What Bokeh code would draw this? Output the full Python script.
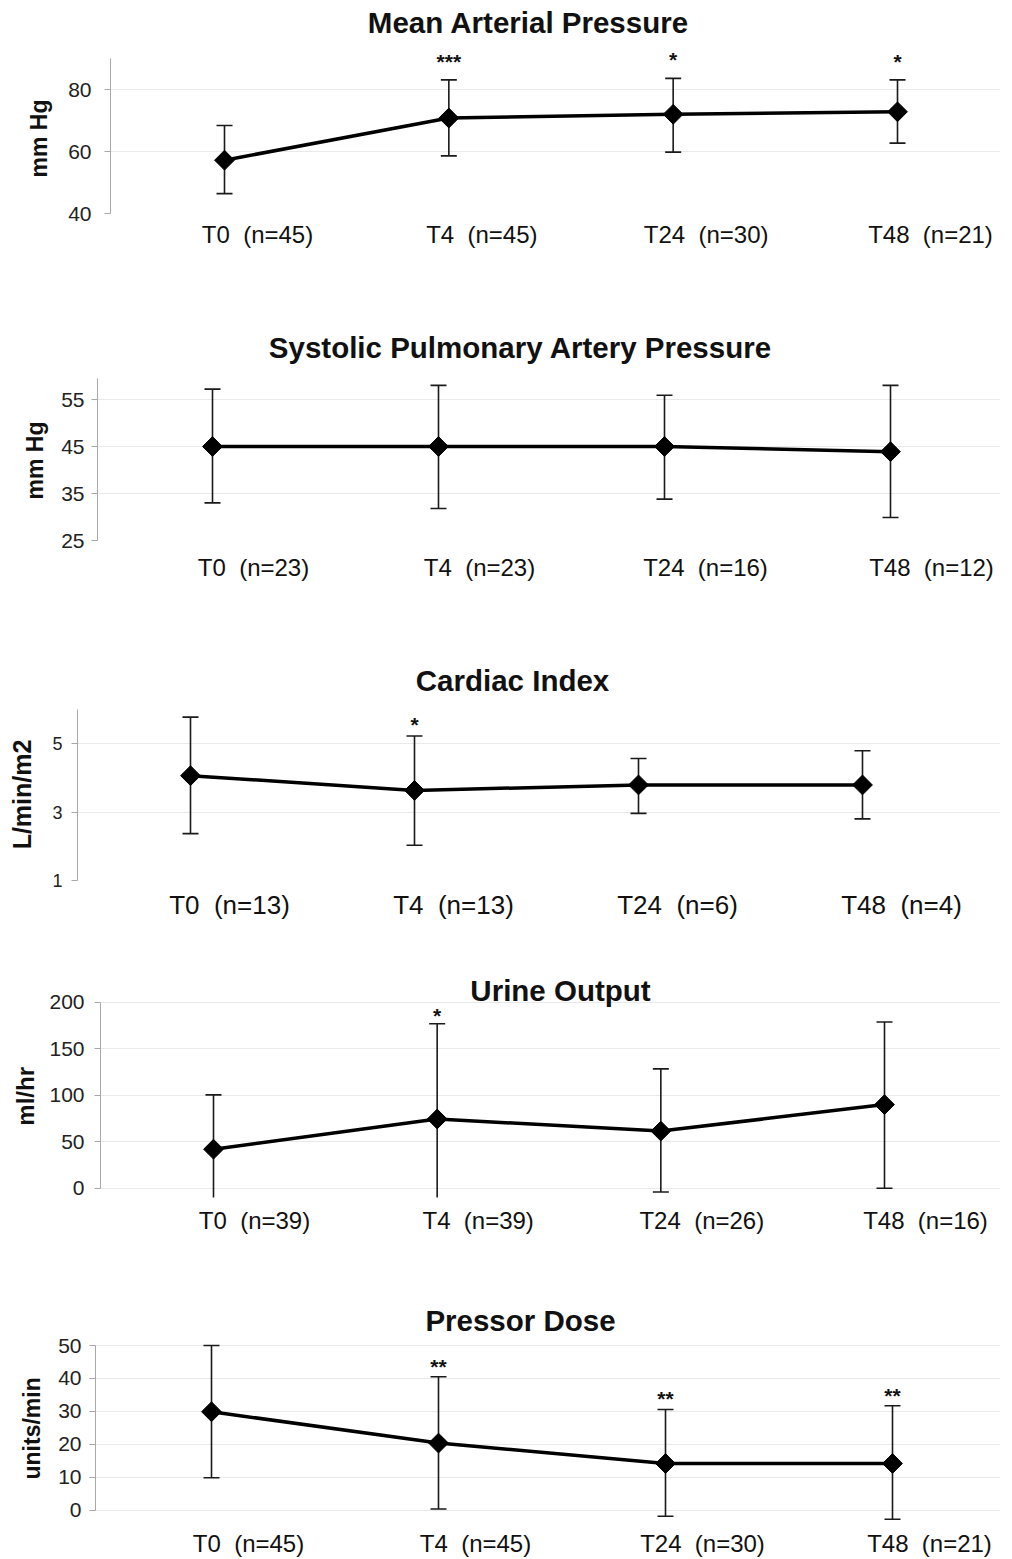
import math
from bokeh.plotting import figure
from bokeh.models import ColumnDataSource, LabelSet, Label, FixedTicker, Range1d, LinearAxis
from bokeh.core.properties import value
from bokeh.embed import file_html
from bokeh.resources import INLINE

# ---------------- data ----------------
categories = ["T0", "T4", "T24", "T48"]

map_title = "Mean Arterial Pressure"
map_unit = "mm Hg"
map_n = [45, 45, 30, 21]
map_mean = [57.2, 70.8, 72.0, 72.8]
map_low = [46.4, 58.6, 59.8, 62.7]
map_high = [68.4, 83.1, 83.6, 83.1]
map_sig = ["", "***", "*", "*"]
map_ticks = [40, 60, 80]

spap_title = "Systolic Pulmonary Artery Pressure"
spap_unit = "mm Hg"
spap_n = [23, 23, 16, 12]
spap_mean = [45.0, 45.0, 45.0, 43.9]
spap_low = [33.0, 31.8, 33.8, 29.9]
spap_high = [57.2, 58.0, 55.9, 58.0]
spap_sig = ["", "", "", ""]
spap_ticks = [25, 35, 45, 55]

ci_title = "Cardiac Index"
ci_unit = "L/min/m2"
ci_n = [13, 13, 6, 4]
ci_mean = [4.06, 3.63, 3.79, 3.79]
ci_low = [2.37, 2.03, 2.96, 2.80]
ci_high = [5.77, 5.22, 4.56, 4.79]
ci_sig = ["", "*", "", ""]
ci_ticks = [1, 3, 5]

uo_title = "Urine Output"
uo_unit = "ml/hr"
uo_n = [39, 39, 26, 16]
uo_mean = [42.0, 74.5, 61.5, 90.0]
uo_low = [-16.5, -28.0, -4.0, 0.0]
uo_high = [100.5, 177.0, 128.5, 179.0]
uo_sig = ["", "*", "", ""]
uo_ticks = [0, 50, 100, 150, 200]

pd_title = "Pressor Dose"
pd_unit = "units/min"
pd_n = [45, 45, 30, 21]
pd_mean = [29.9, 20.4, 14.2, 14.2]
pd_low = [9.9, 0.4, -1.8, -2.7]
pd_high = [50.0, 40.5, 30.6, 31.7]
pd_sig = ["", "**", "**", "**"]
pd_ticks = [0, 10, 20, 30, 40, 50]

FONT = "Liberation Sans"
W = 1004
FRAME_RIGHT = 1000
NB = "\u00a0"


def make_panel(title, unit, n, mean, low, high, sig, ticks, g):
    idx = list(range(len(categories)))
    labels = [f"{c}{NB} (n={k})" for c, k in zip(categories, n)]
    src = ColumnDataSource(dict(x=idx, mean=mean, low=low, high=high, sig=sig))

    # --- layout geometry (page pixels -> ranges) ---
    (va, pa), (vb, pb) = g["ref_a"], g["ref_b"]
    s = (pb - pa) / (va - vb)                      # px per unit
    fb_page = pb + (vb - g["clip"]) * s            # frame bottom on page
    frame_h = fb_page - g["top"]
    bottom_border = int(round(g["h"] - frame_h))
    y_end = g["clip"] + frame_h / s
    xs = (g["x3"] - g["x0"]) / (len(categories) - 1)
    xr0 = -(g["x0"] - g["left"]) / xs
    xr1 = xr0 + (FRAME_RIGHT - g["left"]) / xs

    def val_at(py):
        return g["clip"] + (fb_page - py) / s

    p = figure(width=W, height=g["h"], output_backend="svg", toolbar_location=None,
               x_range=Range1d(xr0, xr1), y_range=Range1d(g["clip"], y_end),
               x_axis_location=None)
    p.min_border = 0
    p.min_border_top = 0
    p.min_border_bottom = bottom_border
    p.min_border_left = g["left"]
    p.min_border_right = W - FRAME_RIGHT
    p.outline_line_color = None
    p.background_fill_color = "white"
    p.border_fill_color = "white"
    p.xgrid.visible = False
    p.ygrid.ticker = FixedTicker(ticks=ticks)
    p.ygrid.grid_line_color = "#e9e9e9"
    p.ygrid.grid_line_width = 1

    ax = p.yaxis[0]
    ax.ticker = FixedTicker(ticks=ticks)
    ax.bounds = g["bounds"]
    ax.axis_line_color = "#a8a8a8"
    ax.major_tick_line_color = "#a8a8a8"
    ax.major_tick_out = 6
    ax.major_tick_in = 0
    ax.minor_tick_line_color = None
    ax.major_label_text_font = FONT
    ax.major_label_text_font_size = g["tickfs"]
    ax.major_label_text_color = "#222222"
    ax.major_label_standoff = g["tick_standoff"]

    # unit label as an outer left axis with a single labelled position
    uy = round(val_at(g["unit_y"]), 3)
    ua = LinearAxis(ticker=FixedTicker(ticks=[uy]), major_label_overrides={uy: unit},
                    major_label_orientation="vertical")
    ua.axis_line_color = None
    ua.major_tick_line_color = None
    ua.minor_tick_line_color = None
    ua.major_tick_out = 0
    ua.major_tick_in = 0
    ua.major_label_standoff = g["unit_standoff"]
    ua.major_label_text_font = FONT
    ua.major_label_text_font_style = "bold"
    ua.major_label_text_font_size = g["unitfs"]
    ua.major_label_text_color = "#111111"
    p.add_layout(ua, "left")

    # category axis, shifted right of the points like the original
    shift = g["lab_dx"] / xs
    p.extra_x_ranges = {"lab": Range1d(xr0 - shift, xr1 - shift)}
    xa = LinearAxis(x_range_name="lab", ticker=FixedTicker(ticks=idx),
                    major_label_overrides={i: t for i, t in zip(idx, labels)})
    xa.axis_line_color = None
    xa.major_tick_line_color = None
    xa.minor_tick_line_color = None
    xa.major_tick_out = 0
    xa.major_tick_in = 0
    xa.major_label_standoff = g["lab_standoff"]
    xa.major_label_text_font = FONT
    xa.major_label_text_font_size = g["catfs"]
    xa.major_label_text_color = "#111111"
    p.add_layout(xa, "below")

    # error bars
    p.segment(x0="x", y0="low", x1="x", y1="high", source=src, line_color="#1a1a1a", line_width=1.6)
    p.scatter(x="x", y="high", source=src, marker="dash", size=16, line_color="#1a1a1a", line_width=1.6)
    p.scatter(x="x", y="low", source=src, marker="dash", size=16, line_color="#1a1a1a", line_width=1.6)
    # mean line + diamonds
    p.line(x="x", y="mean", source=src, line_color="black", line_width=3.5)
    p.scatter(x="x", y="mean", source=src, marker="square", angle=math.pi / 4, size=14,
              fill_color="black", line_color="black")

    # significance stars
    p.add_layout(LabelSet(x="x", y="high", text="sig", source=src, y_offset=g["star_dy"],
                          text_align="center", text_baseline="alphabetic",
                          text_font=value(FONT), text_font_size="21px", text_font_style="bold",
                          text_color="#111111"))
    # title (inside the frame area above the data)
    tx, ty = g["title"]
    p.add_layout(Label(x=(tx - g["x0"]) / xs, y=val_at(ty), text=title, text_align="center",
                       text_baseline="middle", text_font=FONT, text_font_size="29.5px",
                       text_font_style="bold", text_color="#111111"))
    return p


geo_map = dict(top=0, h=290, ref_a=(80, 89), ref_b=(40, 213), clip=40, bounds=(40, 90),
               left=110, x0=224, x3=897, title=(528, 22), lab_dx=33, lab_standoff=7, star_dy=11,
               tick_standoff=13, unit_y=138, unit_standoff=13,
               tickfs="21px", catfs="24px", unitfs="23px")
geo_spap = dict(top=290, h=335, ref_a=(55, 399), ref_b=(25, 540), clip=25, bounds=(25, 59.5),
                left=97, x0=212, x3=890, title=(520, 347), lab_dx=41, lab_standoff=13, star_dy=4,
                tick_standoff=7, unit_y=460, unit_standoff=10,
                tickfs="21px", catfs="24px", unitfs="23px")
geo_ci = dict(top=625, h=323, ref_a=(5, 743), ref_b=(1, 880), clip=1, bounds=(1, 6),
              left=77, x0=190, x3=862, title=(512, 680), lab_dx=39, lab_standoff=9, star_dy=4,
              tick_standoff=9, unit_y=794, unit_standoff=13,
              tickfs="18px", catfs="26px", unitfs="25px")
geo_uo = dict(top=948, h=322, ref_a=(200, 1002), ref_b=(0, 1188), clip=-10, bounds=(0, 200),
              left=100, x0=213, x3=884, title=(560, 990), lab_dx=41, lab_standoff=9, star_dy=1,
              tick_standoff=10, unit_y=1096, unit_standoff=7,
              tickfs="21px", catfs="24px", unitfs="24px")
geo_pd = dict(top=1270, h=289, ref_a=(50, 1346), ref_b=(0, 1513), clip=-4, bounds=(0, 50),
              left=95, x0=211, x3=892, title=(520, 1321), lab_dx=37, lab_standoff=6, star_dy=3,
              tick_standoff=8, unit_y=1430, unit_standoff=10,
              tickfs="21px", catfs="24px", unitfs="23px")

panels = [
    make_panel(map_title, map_unit, map_n, map_mean, map_low, map_high, map_sig, map_ticks, geo_map),
    make_panel(spap_title, spap_unit, spap_n, spap_mean, spap_low, spap_high, spap_sig, spap_ticks, geo_spap),
    make_panel(ci_title, ci_unit, ci_n, ci_mean, ci_low, ci_high, ci_sig, ci_ticks, geo_ci),
    make_panel(uo_title, uo_unit, uo_n, uo_mean, uo_low, uo_high, uo_sig, uo_ticks, geo_uo),
    make_panel(pd_title, pd_unit, pd_n, pd_mean, pd_low, pd_high, pd_sig, pd_ticks, geo_pd),
]

# each panel is its own root so that Bokeh does not align their frames
open("out.html", "w").write(file_html(panels, INLINE))
